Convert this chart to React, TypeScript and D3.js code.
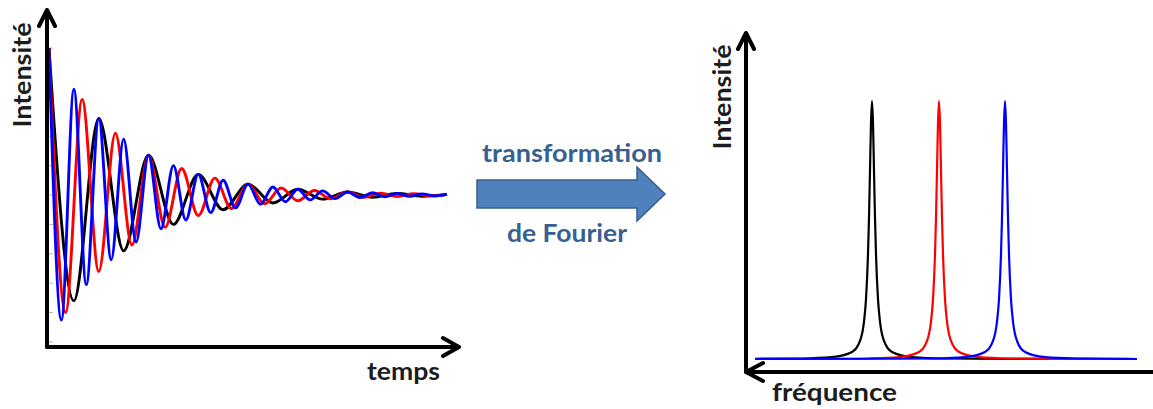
import React from 'react';
import * as d3 from 'd3';

// ---- time domain (FID) : extrema [time, intensity]
const fidBlack: [number, number][] = [[0,1],[25,-0.72],[50,0.52],[75,-0.38],[100,0.27],[125,-0.2],[150,0.14],[175,-0.1],[200,0.074],[225,-0.054],[250,0.039],[275,-0.028],[300,0.02],[325,-0.015],[350,0.011],[375,-0.008],[400,0.004]];
const fidRed: [number, number][] = [[0,1],[16.7,-0.8],[33.3,0.65],[50,-0.52],[66.7,0.42],[83.3,-0.34],[100,0.27],[116.7,-0.22],[133.3,0.18],[150,-0.14],[166.7,0.115],[183.3,-0.092],[200,0.074],[216.7,-0.06],[233.3,0.048],[250,-0.039],[266.7,0.031],[283.3,-0.025],[300,0.02],[316.7,-0.016],[333.3,0.013],[350,-0.011],[366.7,0.0085],[383.3,-0.0069],[400,0.004]];
const fidBlue: [number, number][] = [[0,1],[12.5,-0.85],[25,0.72],[37.5,-0.61],[50,0.52],[62.5,-0.44],[75,0.38],[87.5,-0.32],[100,0.27],[112.5,-0.23],[125,0.2],[137.5,-0.17],[150,0.14],[162.5,-0.12],[175,0.1],[187.5,-0.087],[200,0.074],[212.5,-0.063],[225,0.054],[237.5,-0.046],[250,0.039],[262.5,-0.033],[275,0.028],[287.5,-0.024],[300,0.02],[312.5,-0.017],[325,0.015],[337.5,-0.012],[350,0.011],[362.5,-0.009],[375,0.0076],[387.5,-0.0065],[400,0.004]];
const intensityTicks = [-1, -0.8, -0.6, -0.4, -0.2, 0, 0.2, 0.4, 0.6, 0.8, 1];

// ---- frequency domain (spectrum) : [frequency, intensity]
const specBlack: [number, number][] = [[382,0.001],[335,0.002],[305,0.007],[285,0.027],[277,0.07],[273,0.145],[271,0.232],[269,0.405],[268,0.548],[267,0.731],[266,0.916],[265,1],[264,0.916],[263,0.731],[262,0.548],[261,0.405],[259,0.232],[257,0.145],[253,0.07],[245,0.027],[225,0.007],[195,0.002],[100,0.0004],[0,0]];
const specRed: [number, number][] = [[382,0],[290,0.001],[268,0.002],[238,0.007],[218,0.027],[210,0.07],[206,0.145],[204,0.232],[202,0.405],[201,0.548],[200,0.731],[199,0.916],[198,1],[197,0.916],[196,0.731],[195,0.548],[194,0.405],[192,0.232],[190,0.145],[186,0.07],[178,0.027],[158,0.007],[128,0.002],[60,0.0005],[0,0]];
const specBlue: [number, number][] = [[382,0],[250,0.001],[202,0.002],[172,0.007],[152,0.027],[144,0.07],[140,0.145],[138,0.232],[136,0.405],[135,0.548],[134,0.731],[133,0.916],[132,1],[131,0.916],[130,0.731],[129,0.548],[128,0.405],[126,0.232],[124,0.145],[120,0.07],[112,0.027],[92,0.007],[62,0.002],[20,0.0006],[0,0]];

const labels = {
  yLabel: 'Intensité',
  xLeft: 'temps',
  xRight: 'fréquence',
  arrowTop: 'transformation',
  arrowBottom: 'de Fourier',
};

const FONT = 'Lato, "Open Sans", sans-serif';
const TXT = '#1c1c1c';
const BLUE_TXT = '#376092';

export default function App() {
  const xT = d3.scaleLinear().domain([0, 400]).range([49, 447]);
  const yT = d3.scaleLinear().domain([-1, 1]).range([342, 48]);
  const lineT = d3.line<[number, number]>().x(d => xT(d[0])).y(d => yT(d[1])).curve(d3.curveMonotoneX);

  const xF = d3.scaleLinear().domain([0, 382]).range([1137, 755]);
  const yF = d3.scaleLinear().domain([0, 1]).range([359, 101]);
  const lineF = d3.line<[number, number]>().x(d => xF(d[0])).y(d => yF(d[1])).curve(d3.curveMonotoneX);

  const axisStyle = { stroke: '#000', strokeWidth: 4, fill: 'none', strokeLinecap: 'round' as const, strokeLinejoin: 'round' as const };

  return (
    <svg width={1153} height={409} style={{ position: 'absolute', left: 0, top: 0, background: '#fff' }}>
      {/* ---------- left panel ---------- */}
      {intensityTicks.map(t => (
        <line key={t} x1={49} x2={53} y1={yT(t)} y2={yT(t)} stroke="#b5b5b5" strokeWidth={1} />
      ))}
      <path d={lineT(fidBlack) || ''} fill="none" stroke="#000" strokeWidth={2.9} />
      <path d={lineT(fidRed) || ''} fill="none" stroke="#ff0000" strokeWidth={2.9} />
      <path d={lineT(fidBlue) || ''} fill="none" stroke="#0000ff" strokeWidth={2.9} />
      <path d="M47,347 L47,10 M39,26 L47,10 L55,26" {...axisStyle} />
      <path d="M47,347 L459,347 M443,338 L459,347 L443,356" {...axisStyle} />
      <text transform="translate(31,75) rotate(-90)" textAnchor="middle" fontFamily={FONT} fontWeight={700} fontSize={25} fill={TXT} textLength={105} lengthAdjust="spacingAndGlyphs">{labels.yLabel}</text>
      <text x={367} y={380} fontFamily={FONT} fontWeight={700} fontSize={24} fill={TXT} textLength={73} lengthAdjust="spacingAndGlyphs">{labels.xLeft}</text>

      {/* ---------- middle arrow ---------- */}
      <path d="M477,180 L637,180 L637,167 L665,194 L637,221 L637,208 L477,208 Z" fill="#4f81bd" stroke="#385d8a" strokeWidth={1.5} />
      <text x={482} y={162} fontFamily={FONT} fontWeight={700} fontSize={25} fill={BLUE_TXT} textLength={180} lengthAdjust="spacingAndGlyphs">{labels.arrowTop}</text>
      <text x={507} y={242} fontFamily={FONT} fontWeight={700} fontSize={25} fill={BLUE_TXT} textLength={120} lengthAdjust="spacingAndGlyphs">{labels.arrowBottom}</text>

      {/* ---------- right panel ---------- */}
      <path d={lineF(specBlack) || ''} fill="none" stroke="#000" strokeWidth={2.2} />
      <path d={lineF(specRed) || ''} fill="none" stroke="#ff0000" strokeWidth={2.2} />
      <path d={lineF(specBlue) || ''} fill="none" stroke="#0000ff" strokeWidth={2.2} />
      <path d="M746,372 L746,33 M738,49 L746,33 L754,49" {...axisStyle} />
      <path d="M746,372 L1153,372 M763,363 L746,372 L763,381" {...axisStyle} />
      <text transform="translate(731,97) rotate(-90)" textAnchor="middle" fontFamily={FONT} fontWeight={700} fontSize={25} fill={TXT} textLength={105} lengthAdjust="spacingAndGlyphs">{labels.yLabel}</text>
      <text x={772} y={401} fontFamily={FONT} fontWeight={700} fontSize={25} fill={TXT} textLength={125} lengthAdjust="spacingAndGlyphs">{labels.xRight}</text>
    </svg>
  );
}
